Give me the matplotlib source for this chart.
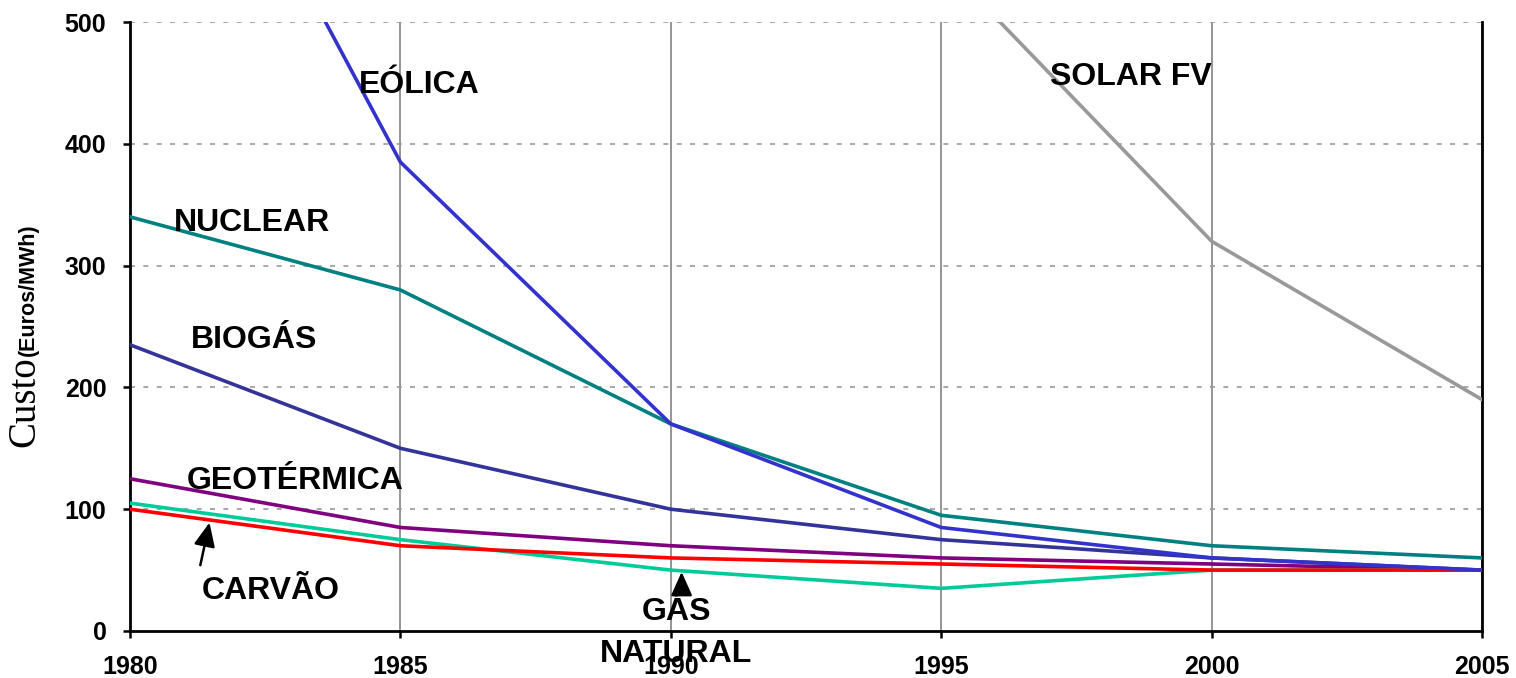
import numpy as np
import matplotlib.pyplot as plt

# Cost of electricity by source (Euros/MWh)
years = [1980, 1985, 1990, 1995, 2000, 2005]
eolica = [800, 385, 170, 85, 60, 50]
nuclear = [340, 280, 170, 95, 70, 60]
biogas = [235, 150, 100, 75, 60, 50]
geotermica = [125, 85, 70, 60, 55, 50]
carvao = [100, 70, 60, 55, 50, 50]
gas_natural = [105, 75, 50, 35, 50, 50]
solar_years = [1995, 2000, 2005]
solar_fv = [550, 320, 190]

fig = plt.figure(figsize=(15.16, 6.78), dpi=100)
ax = fig.add_axes([130 / 1516, 47 / 678, 1352 / 1516, 609 / 678])

# vertical grid at each tick year, dotted horizontal grid
for yr in years:
    ax.axvline(yr, color='#8c8c8c', lw=1.3, zorder=1)
for v in [100, 200, 300, 400, 500]:
    ax.axhline(v, color='#9a9a9a', lw=1.2, ls=(0, (3, 5)), zorder=1)

lw = 2.6
ax.plot(solar_years, solar_fv, color='#999999', lw=lw, zorder=3)
ax.plot(years, nuclear, color='#008080', lw=lw, zorder=3)
ax.plot(years, eolica, color='#3333cc', lw=lw, zorder=4)
ax.plot(years, biogas, color='#333399', lw=lw, zorder=3)
ax.plot(years, geotermica, color='#800080', lw=lw, zorder=3)
ax.plot(years, gas_natural, color='#00cc99', lw=lw, zorder=3)
ax.plot(years, carvao, color='#ff0000', lw=lw, zorder=3)

ax.set_xlim(1980, 2005)
ax.set_ylim(0, 500)
ax.set_xticks(years)
ax.set_yticks([0, 100, 200, 300, 400, 500])

tick_font = dict(family='Liberation Sans', weight='bold', size=18)
ax.set_xticklabels([str(y) for y in years], fontdict=tick_font)
ax.set_yticklabels(['0', '100', '200', '300', '400', '500'], fontdict=tick_font)
ax.tick_params(axis='x', direction='out', length=5, width=1.8, pad=12)
ax.tick_params(axis='y', direction='out', length=5, width=1.8, pad=12)

for side in ['left', 'bottom', 'right']:
    ax.spines[side].set_linewidth(2)
    ax.spines[side].set_color('black')
ax.spines['top'].set_visible(False)

lab = dict(family='Liberation Sans', weight='bold', size=23, ha='center',
           va='center', zorder=6)
ax.text(1985.35, 448, 'EÓLICA', **lab)
ax.text(1982.25, 335, 'NUCLEAR', **lab)
ax.text(1982.3, 239, 'BIOGÁS', **lab)
ax.text(1983.05, 123.5, 'GEOTÉRMICA', **lab)
ax.text(1982.6, 32.5, 'CARVÃO', **lab)
ax.text(1990.1, 15.5, 'GÁS', **lab)
ax.text(1990.1, -19, 'NATURAL', clip_on=False, **lab)
ax.text(1998.5, 455, 'SOLAR FV', **lab)

arrow = dict(arrowstyle='-|>,head_length=1.45,head_width=0.65', color='black',
             lw=1.8, shrinkA=0, shrinkB=0)
ax.annotate('', xy=(1981.47, 89), xytext=(1981.3, 54), arrowprops=arrow)
ax.annotate('', xy=(1990.2, 48.5), xytext=(1990.2, 31), arrowprops=arrow)

# y label: serif word plus bold unit in parentheses
fig.text(0.0165, 0.407, 'Custo', family='Liberation Serif', size=28,
         rotation=90, ha='center', va='center')
fig.text(0.0185, 0.572, '(Euros/MWh)', family='Liberation Sans',
         weight='bold', size=15.5, rotation=90, ha='center', va='center')

fig.savefig('out.png', dpi=100)
